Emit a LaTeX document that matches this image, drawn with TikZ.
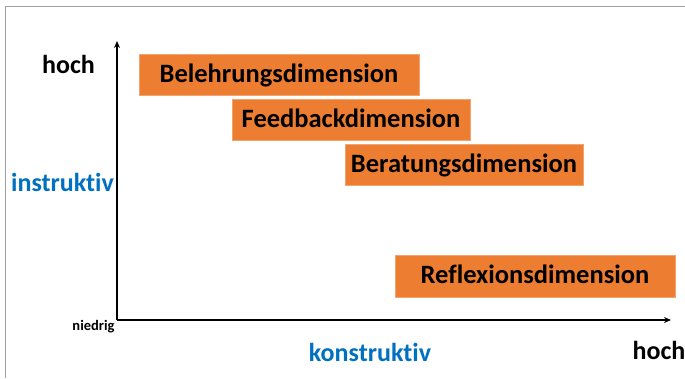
\documentclass[tikz,border=0pt]{standalone}
\usepackage{fontspec}
\setmainfont[Ligatures={NoCommon}]{Carlito}
\usetikzlibrary{arrows.meta}
\definecolor{boxorange}{HTML}{ED7D31}
\definecolor{labelblue}{HTML}{0070C0}
\definecolor{framegray}{HTML}{A0A0A0}
\tikzset{
  dimbox/.style={fill=boxorange, draw=boxorange!70!white, line width=0.6pt, minimum height=41pt, inner sep=0pt, text height=19.5pt, text depth=4pt, font=\bfseries\fontsize{26.5}{30}\selectfont},
  axis/.style={line width=1.4pt, -{Stealth[length=7pt,width=6pt]}},
  blue label/.style={text=labelblue, font=\bfseries\fontsize{26}{30}\selectfont},
  black label/.style={font=\bfseries\fontsize{26}{30}\selectfont}
}
\begin{document}
\begin{tikzpicture}[x=1pt,y=-1pt]
\useasboundingbox (0,0) rectangle (685,378);
\draw[framegray, line width=1pt] (5,378) -- (5,6.5) -- (685,6.5);
\coordinate (O) at (117,320);
\coordinate (ytip) at (117,41);
\coordinate (xtip) at (671,320);
\node[blue label, inner sep=0pt] (instr) at (62.5,182) {instruktiv};
\draw[axis] (O) -- (ytip);
\draw[axis] (O) -- (xtip);
\node[dimbox, minimum width=280pt] (bel) at (279,74.5) {Belehrungsdimension};
\node[dimbox, minimum width=238pt] (fee) at (351,119.5) {Feedbackdimension};
\node[dimbox, minimum width=238pt] (ber) at (464,164.5) {Beratungsdimension};
\node[dimbox, minimum width=280pt, minimum height=42pt] (ref) at (535,276) {Reflexionsdimension};
\node[black label] (hochy) at (68.5,64) {hoch};
\node[font=\bfseries\fontsize{14.5}{17}\selectfont] (nied) at (93.5,327) {niedrig};
\node[blue label] (konstr) at (370,352) {konstruktiv};
\node[black label] (hochx) at (659,350) {hoch};
\end{tikzpicture}
\end{document}
